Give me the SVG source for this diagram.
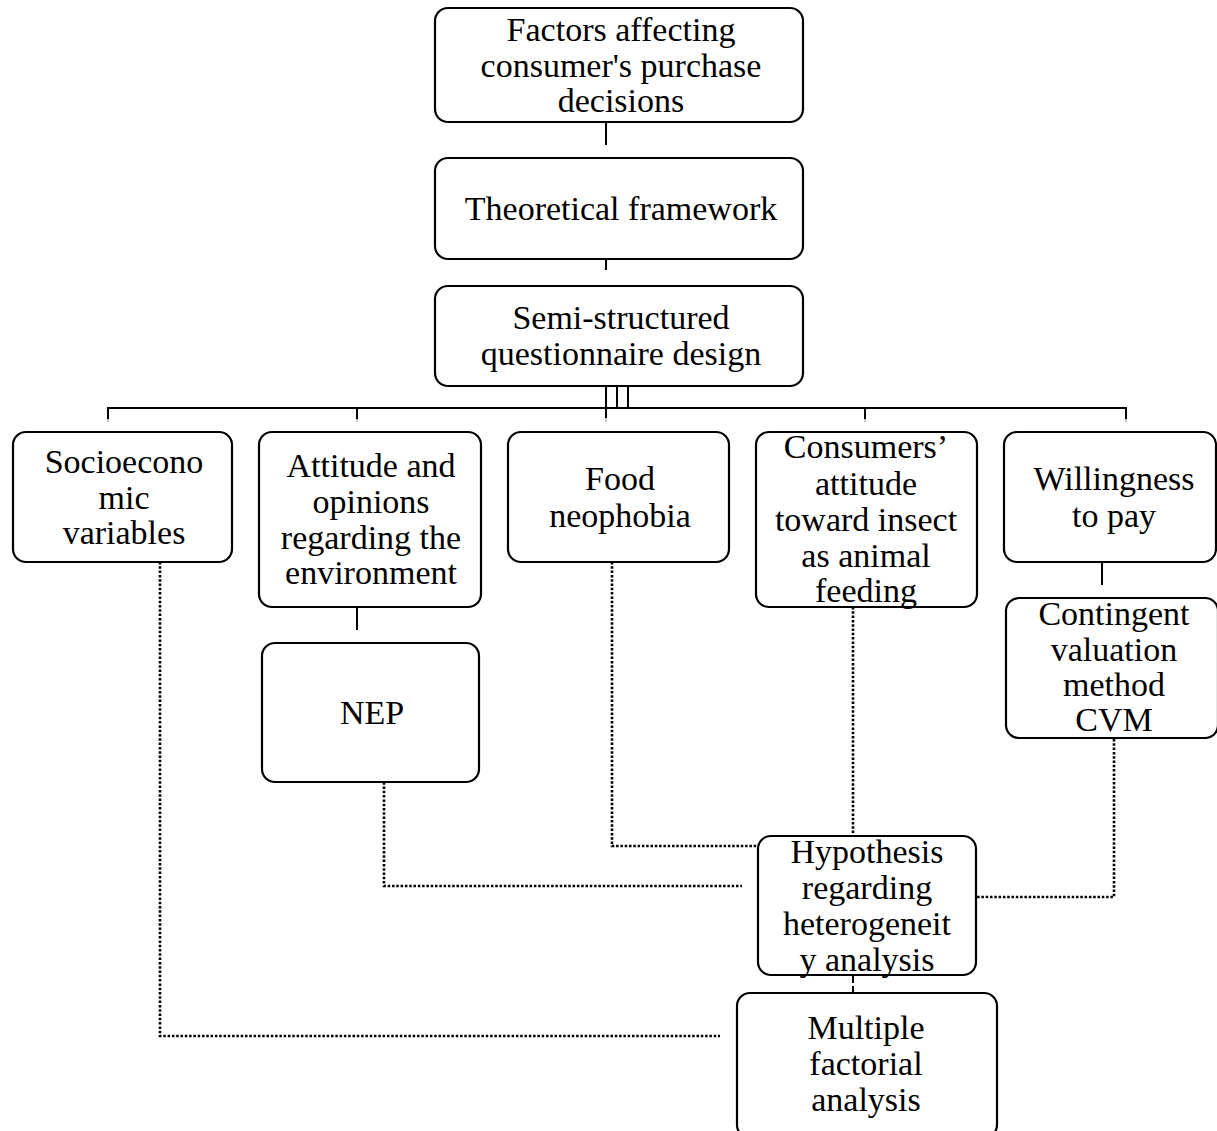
<svg xmlns="http://www.w3.org/2000/svg" width="1217" height="1131" viewBox="0 0 1217 1131">
<style>
.box{fill:#fff;stroke:#000;stroke-width:2.2}
.t{font-family:"Liberation Serif","Times New Roman",serif;font-size:34px;fill:#000;text-anchor:middle}
.s{stroke:#000;stroke-width:2;fill:none}
.g{stroke:#c8c8c8;stroke-width:2;fill:none}
.d{stroke:#000;stroke-width:2.6;fill:none;stroke-dasharray:2.5 1.8}
</style>
<rect width="1217" height="1131" fill="#fff"/>
<g id="connectors">
<line class="g" x1="606" y1="112" x2="606" y2="122"/>
<line class="s" x1="606" y1="122" x2="606" y2="145"/>
<line class="g" x1="606" y1="248" x2="606" y2="259"/>
<line class="s" x1="606" y1="259" x2="606" y2="270"/>
<line class="g" x1="606" y1="375" x2="606" y2="386"/>
<line class="g" x1="617" y1="375" x2="617" y2="386"/>
<line class="g" x1="628" y1="375" x2="628" y2="386"/>
<line class="s" x1="606" y1="386" x2="606" y2="418"/>
<line class="s" x1="617" y1="386" x2="617" y2="408"/>
<line class="s" x1="628" y1="386" x2="628" y2="408"/>
<polyline class="s" points="108,419 108,408 1126,408 1126,419"/>
<line class="s" x1="357" y1="408" x2="357" y2="419"/>
<line class="s" x1="865" y1="408" x2="865" y2="419"/>
<line class="g" x1="108" y1="419" x2="108" y2="422"/>
<line class="g" x1="357" y1="419" x2="357" y2="422"/>
<line class="g" x1="606" y1="418" x2="606" y2="422"/>
<line class="g" x1="865" y1="419" x2="865" y2="422"/>
<line class="g" x1="1126" y1="419" x2="1126" y2="422"/>
<line class="g" x1="357" y1="597" x2="357" y2="607"/>
<line class="s" x1="357" y1="607" x2="357" y2="630"/>
<line class="s" x1="1102" y1="562" x2="1102" y2="585"/>
<line class="s" x1="853" y1="975" x2="853" y2="995" stroke-dasharray="8 3"/>
<polyline class="d" points="160,562 160,1036 720,1036"/>
<polyline class="d" points="384,765 384,886 742,886"/>
<polyline class="d" points="612,562 612,846 767,846"/>
<line class="d" x1="853" y1="607" x2="853" y2="836"/>
<polyline class="d" points="1114,739 1114,897 975,897"/>
</g>
<g id="n1"><rect class="box" x="435" y="8" width="368" height="114" rx="13"/>
<text class="t" x="621" y="41">Factors affecting</text><text class="t" x="621" y="77">consumer's purchase</text><text class="t" x="621" y="112">decisions</text></g>
<g id="n2"><rect class="box" x="435" y="158" width="368" height="101" rx="13"/>
<text class="t" x="621" y="220">Theoretical framework</text></g>
<g id="n3"><rect class="box" x="435" y="286" width="368" height="100" rx="13"/>
<text class="t" x="621" y="329">Semi-structured</text><text class="t" x="621" y="365">questionnaire design</text></g>
<g id="n4"><rect class="box" x="13" y="432" width="219" height="130" rx="13"/>
<text class="t" x="124" y="473">Socioecono</text><text class="t" x="124" y="509">mic</text><text class="t" x="124" y="544">variables</text></g>
<g id="n5"><rect class="box" x="259" y="432" width="222" height="175" rx="13"/>
<text class="t" x="371" y="477">Attitude and</text><text class="t" x="371" y="513">opinions</text><text class="t" x="371" y="549">regarding the</text><text class="t" x="371" y="584">environment</text></g>
<g id="n6"><rect class="box" x="508" y="432" width="221" height="130" rx="13"/>
<text class="t" x="620" y="490">Food</text><text class="t" x="620" y="527">neophobia</text></g>
<g id="n7"><rect class="box" x="756" y="432" width="221" height="175" rx="13"/>
<text class="t" x="866" y="458">Consumers’</text><text class="t" x="866" y="495">attitude</text><text class="t" x="866" y="531">toward insect</text><text class="t" x="866" y="567">as animal</text><text class="t" x="866" y="602">feeding</text></g>
<g id="n8"><rect class="box" x="1004" y="432" width="212" height="130" rx="13"/>
<text class="t" x="1114" y="490">Willingness</text><text class="t" x="1114" y="527">to pay</text></g>
<g id="n9"><rect class="box" x="1006" y="598" width="212" height="140" rx="13"/>
<text class="t" x="1114" y="625">Contingent</text><text class="t" x="1114" y="661">valuation</text><text class="t" x="1114" y="696">method</text><text class="t" x="1114" y="731">CVM</text></g>
<g id="n10"><rect class="box" x="262" y="643" width="217" height="139" rx="13"/>
<text class="t" x="372" y="724">NEP</text></g>
<g id="n11"><rect class="box" x="758" y="836" width="218" height="139" rx="13"/>
<text class="t" x="867" y="863">Hypothesis</text><text class="t" x="867" y="899">regarding</text><text class="t" x="867" y="935">heterogeneit</text><text class="t" x="867" y="971">y analysis</text></g>
<g id="n12"><rect class="box" x="737" y="993" width="260" height="145" rx="13"/>
<text class="t" x="866" y="1039">Multiple</text><text class="t" x="866" y="1075">factorial</text><text class="t" x="866" y="1111">analysis</text></g>
</svg>
